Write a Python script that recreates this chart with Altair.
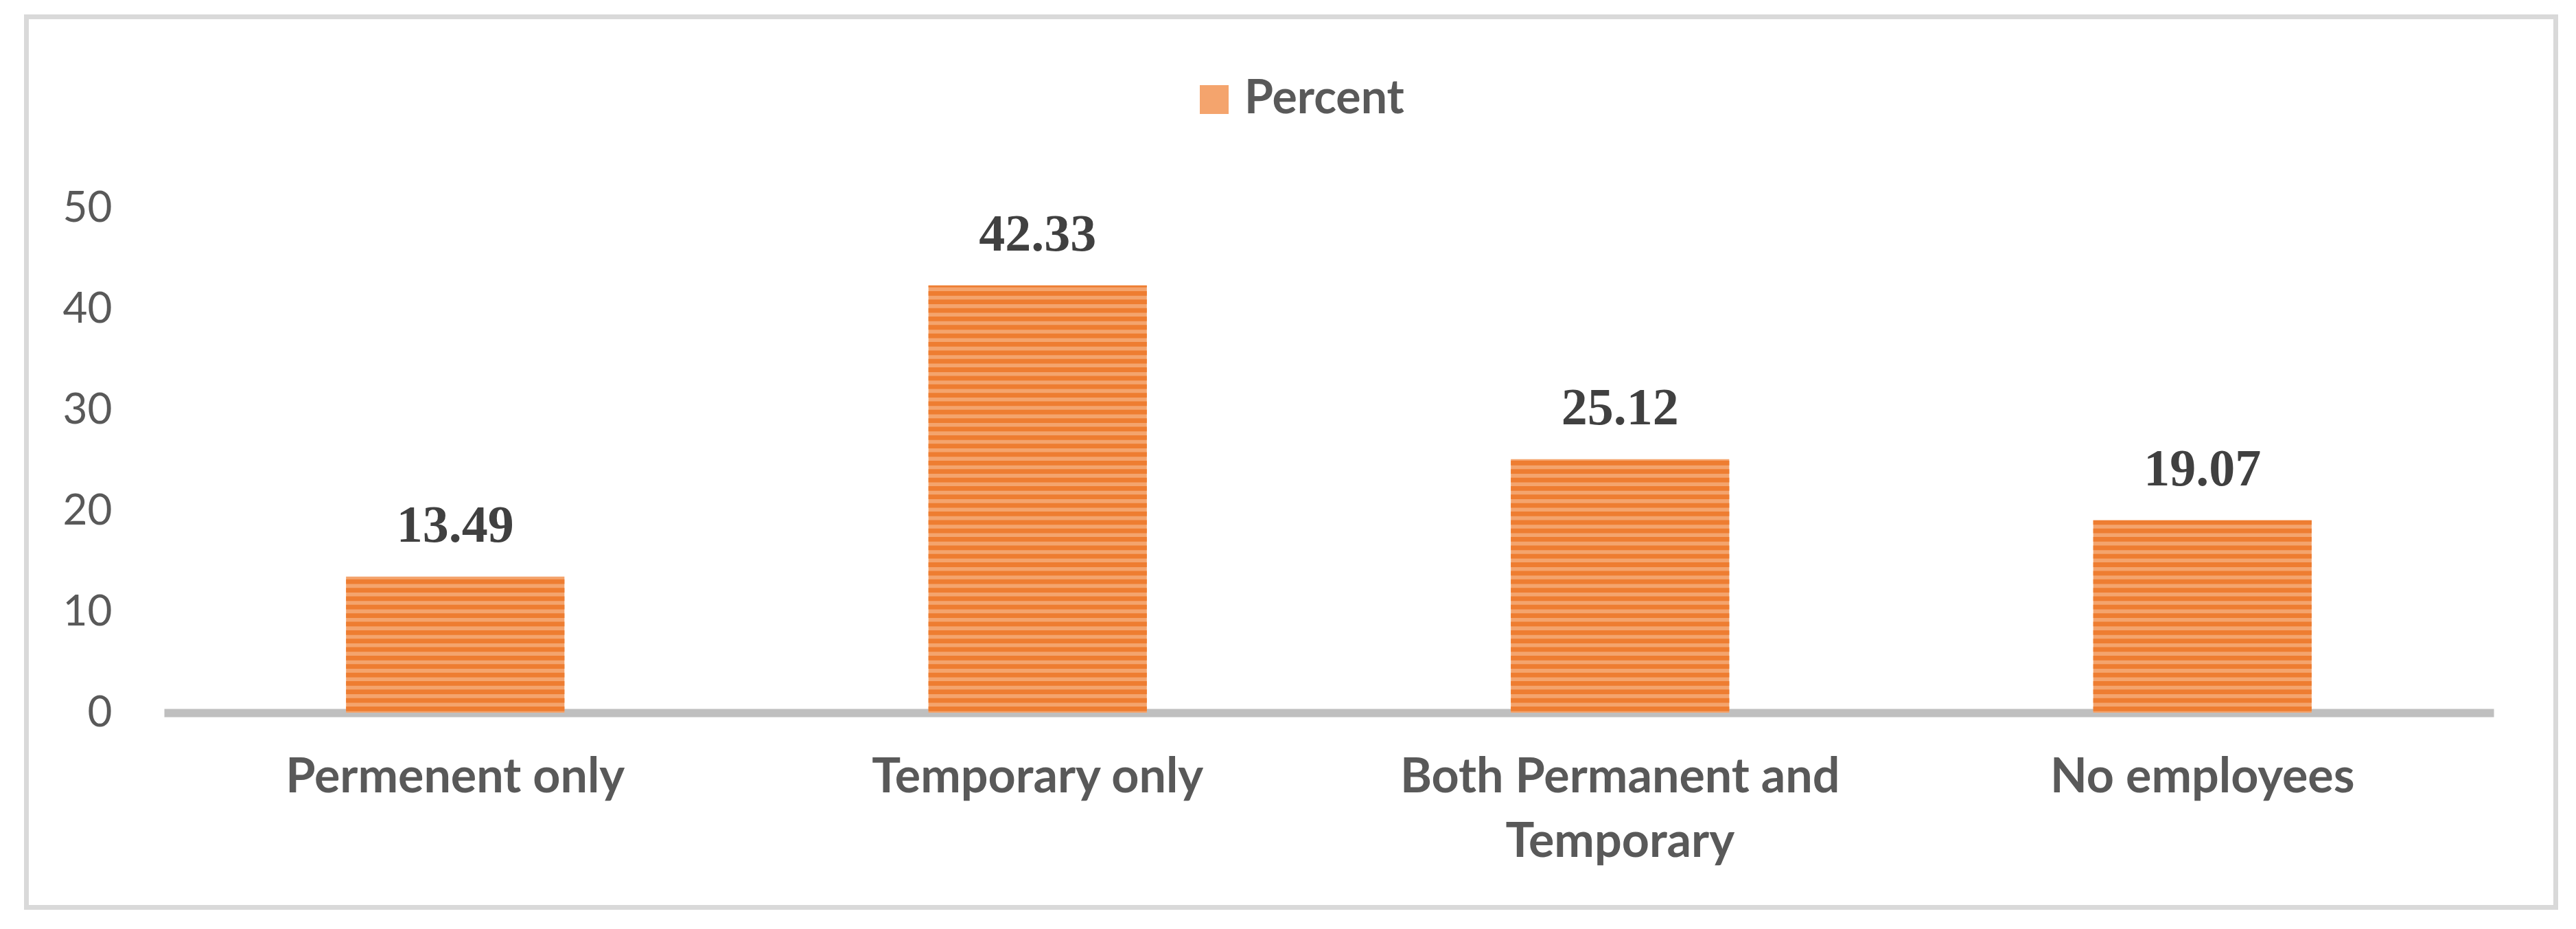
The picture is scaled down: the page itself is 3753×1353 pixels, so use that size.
import altair as alt
import numpy as np
import pandas as pd

# ---- data ----
categories = ["Permenent only", "Temporary only", "Both Permanent and Temporary", "No employees"]
percent = [13.49, 42.33, 25.12, 19.07]
series_name = "Percent"
y_ticks = [0, 10, 20, 30, 40, 50]

df = pd.DataFrame({"category": categories, "value": percent, "series": [series_name] * len(categories)})

# decorative horizontal stripes inside each bar (derived from the bar values)
period = 0.84
thick = 0.46
rows = []
for c, v in zip(categories, percent):
    for s in np.arange(0.15, v, period):
        rows.append({"category": c, "y0": float(s), "y1": float(min(s + thick, v))})
stripes = pd.DataFrame(rows)

PLOT_W, PLOT_H = 3394, 735
LABEL_FONT = "Lato"
GREY = "#595959"

x_enc = alt.X(
    "category:N",
    sort=categories,
    scale=alt.Scale(paddingInner=0.625, paddingOuter=0.3125),
    axis=alt.Axis(
        title=None,
        labelAngle=0,
        ticks=False,
        tickSize=0,
        domainColor="#BFBFBF",
        domainWidth=12,
        labelFont=LABEL_FONT,
        labelFontSize=70,
        labelFontWeight="bold",
        labelColor=GREY,
        labelPadding=60,
        labelLineHeight=94,
        labelLimit=0,
        labelExpr="datum.label == 'Both Permanent and Temporary' ? ['Both Permanent and', 'Temporary'] : datum.label",
    ),
)
y_scale = alt.Scale(domain=[0, 50], nice=False, zero=True)

bars = alt.Chart(df).mark_bar().encode(
    x=x_enc,
    y=alt.Y(
        "value:Q",
        scale=y_scale,
        axis=alt.Axis(
            title=None,
            values=y_ticks,
            grid=False,
            domain=False,
            ticks=False,
            tickSize=0,
            labelFont=LABEL_FONT,
            labelFontSize=62,
            labelColor=GREY,
            labelPadding=76,
        ),
    ),
    color=alt.Color(
        "series:N",
        scale=alt.Scale(range=["#F4A46D"]),
        legend=alt.Legend(
            title=None,
            orient="none",
            legendX=1496,
            legendY=-192,
            symbolType="square",
            symbolSize=1764,
            symbolStrokeWidth=0,
            labelFont=LABEL_FONT,
            labelFontSize=68,
            labelFontWeight="bold",
            labelColor=GREY,
            labelOffset=10,
            labelLimit=0,
            padding=0,
        ),
    ),
)

stripe_layer = alt.Chart(stripes).mark_bar(color="#EE7D31").encode(
    x=alt.X("category:N", sort=categories),
    y=alt.Y("y0:Q", scale=y_scale),
    y2="y1:Q",
)

labels = alt.Chart(df).mark_text(
    font="Liberation Serif",
    fontWeight="bold",
    fontSize=76,
    color="#404040",
    baseline="alphabetic",
    dy=-51,
).encode(
    x=alt.X("category:N", sort=categories),
    y=alt.Y("value:Q", scale=y_scale),
    text=alt.Text("value:Q", format=".2f"),
)

frame = alt.Chart(alt.Data(values=[{"f": 1}])).mark_rect(
    fillOpacity=0, stroke="#D9D9D9", strokeWidth=7
).encode(
    x=alt.value(-200.5),
    x2=alt.value(3484.5),
    y=alt.value(-278.5),
    y2=alt.value(1018.5),
)

chart = (
    alt.layer(frame, bars, stripe_layer, labels)
    .properties(
        width=PLOT_W,
        height=PLOT_H,
        autosize=alt.AutoSizeParams(type="none"),
        padding={"left": 231, "top": 295, "right": 110, "bottom": 305},
        background="white",
    )
    .configure_view(stroke=None)
)

chart.save("out.html", embed_options={"renderer": "svg", "actions": False})
